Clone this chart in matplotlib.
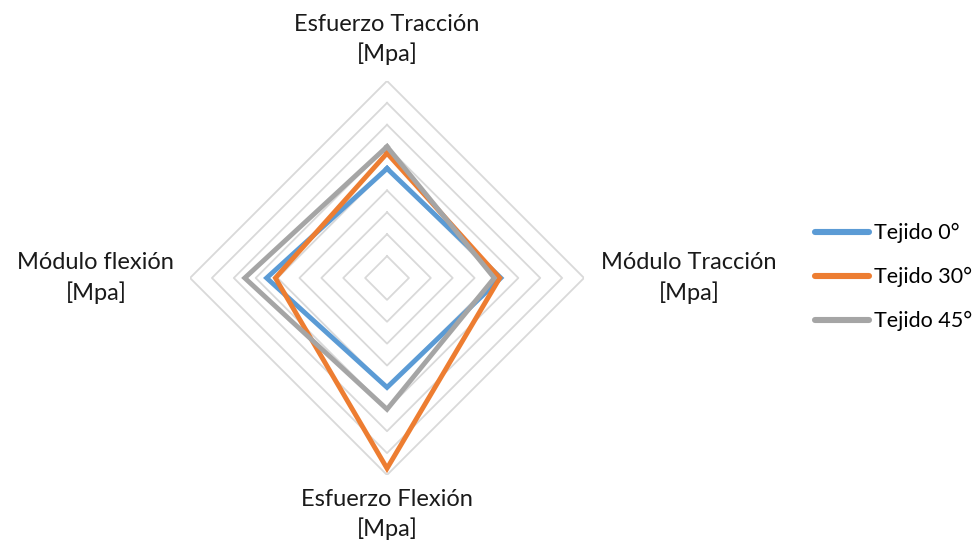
import matplotlib.pyplot as plt
import numpy as np

plt.rcParams['font.family'] = ['Lato', 'DejaVu Sans']

categories = ['Esfuerzo Tracción\n[Mpa]', 'Módulo Tracción\n[Mpa]',
              'Esfuerzo Flexión\n[Mpa]', 'Módulo flexión\n[Mpa]']
series_names = ['Tejido 0°', 'Tejido 30°', 'Tejido 45°']
tejido_0 = [5.0, 5.2, 5.0, 5.5]
tejido_30 = [5.7, 5.15, 8.7, 5.1]
tejido_45 = [6.0, 4.9, 6.0, 6.5]
rings = [1, 2, 3, 4, 5, 6, 7, 8, 9]

colors = ['#5b9bd5', '#ed7d31', '#a5a5a5']

fig = plt.figure(figsize=(9.75, 5.5), dpi=100)
ax = fig.add_axes([0.1949, 0.1364, 0.4041, 0.7164], projection='polar')
ax.set_theta_zero_location('N')
ax.set_theta_direction(-1)

theta = np.linspace(0, 2 * np.pi, len(categories), endpoint=False)
theta_c = np.append(theta, theta[0])

# straight polygon gridlines like excel
for r in rings:
    ax.plot(theta_c, [r] * len(theta_c), color='#d9d9d9', lw=1.3, zorder=1)

for vals, name, c in zip([tejido_0, tejido_30, tejido_45], series_names, colors):
    v = vals + vals[:1]
    ax.plot(theta_c, v, color=c, lw=3.5, label=name, zorder=3,
            solid_joinstyle='miter')

ax.set_ylim(0, rings[-1])
ax.grid(False)
ax.spines['polar'].set_visible(False)
ax.set_xticks([])
ax.set_yticks([])

label_r = [10.9, 13.8, 10.8, 13.3]
for t, lab, r in zip(theta, categories, label_r):
    ax.text(t, r, lab, ha='center', va='center', fontsize=17,
            color='#1a1a1a', clip_on=False, linespacing=1.42)

leg = fig.legend(loc='center left', bbox_to_anchor=(0.836, 0.496), frameon=False,
                 fontsize=15.5, handlelength=2.5, handletextpad=0.25,
                 labelspacing=1.1, borderpad=0, borderaxespad=0)
for h in leg.get_lines():
    h.set_linewidth(4.4)
    h.set_solid_capstyle('round')

fig.savefig('out.png', dpi=100)
